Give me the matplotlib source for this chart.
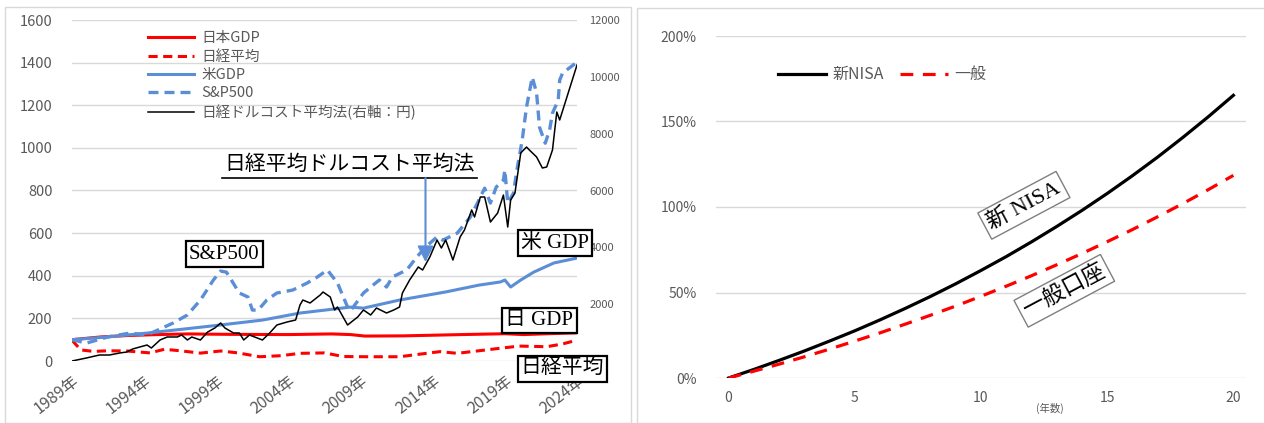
import matplotlib.pyplot as plt
from matplotlib.patches import Rectangle

plt.rcParams['font.family'] = ['Noto Sans CJK JP', 'DejaVu Sans']

# ---- left chart: 1989 = 100 ----
jp_gdp_year = [1989.0, 1991.0, 1993.0, 1995.0, 1997.0, 2000.0, 2004.0, 2007.0, 2008.3, 2009.3,
               2012.0, 2016.0, 2019.0, 2020.3, 2022.0, 2024.0]
jp_gdp = [100, 113, 120, 124, 127, 125, 124, 127, 124, 117, 118, 124, 128, 124, 128, 132]

nikkei_year = [1989.0, 1989.6, 1990.5, 1991.5, 1992.8, 1994.4, 1995.4, 1996.5, 1997.9, 1999.3,
               2000.5, 2002.0, 2003.5, 2004.8, 2006.5, 2007.8, 2009.5, 2011.7, 2014.5, 2015.7,
               2018.7, 2020.0, 2021.9, 2023.0, 2024.0]
nikkei = [98, 52, 45, 48, 47, 38, 55, 48, 37, 47, 38, 20, 25, 36, 38, 21, 20, 20, 44, 36,
          60, 70, 67, 80, 98]

us_gdp_year = [1989.0, 1991.5, 1994.2, 1996.5, 1999.3, 2002.2, 2004.8, 2008.3, 2009.2, 2011.7,
               2014.9, 2017.2, 2018.7, 2019.0, 2019.4, 2020.1, 2021.0, 2022.4, 2024.0]
us_gdp = [100, 113, 131, 148, 169, 192, 225, 253, 248, 286, 324, 356, 371, 380, 347, 380,
          417, 460, 483]

sp500_year = [1989.0, 1990.0, 1991.5, 1993.0, 1994.2, 1996.0, 1997.0, 1997.9, 1998.8, 1999.3,
              1999.7, 2000.6, 2001.2, 2001.5, 2001.9, 2002.5, 2003.2, 2004.3, 2005.3, 2006.0,
              2006.7, 2007.4, 2008.1, 2008.3, 2009.2, 2010.3, 2010.8, 2011.2, 2012.2, 2012.9,
              2013.5, 2014.3, 2014.7, 2015.7, 2016.6, 2017.1, 2017.6, 2018.0, 2018.4, 2018.9,
              2019.0, 2019.2, 2019.6, 2019.8, 2020.2, 2020.5, 2020.9, 2021.2, 2021.4, 2021.8,
              2022.1, 2022.3, 2022.7, 2022.8, 2023.0, 2024.0]
sp500 = [100, 84, 113, 131, 122, 178, 216, 286, 380, 422, 417, 319, 300, 239, 239, 286, 319,
         333, 366, 394, 427, 366, 253, 235, 319, 380, 347, 394, 427, 488, 535, 582, 567, 600,
         675, 741, 811, 741, 816, 849, 896, 741, 788, 882, 1036, 1191, 1332, 1257, 1097, 1022,
         1083, 1163, 1224, 1318, 1351, 1402]

# dollar cost averaging, yen (right axis)
dca_year = [1989.0, 1990.0, 1990.9, 1991.6, 1992.3, 1992.8, 1993.2, 1993.7, 1994.2, 1994.5,
            1995.1, 1995.6, 1996.3, 1996.6, 1997.0, 1997.3, 1997.9, 1998.4, 1998.9, 1999.3,
            1999.6, 2000.2, 2000.6, 2000.9, 2001.3, 2002.2, 2002.7, 2003.2, 2003.9, 2004.5,
            2004.8, 2005.0, 2005.5, 2006.2, 2006.4, 2006.9, 2007.2, 2007.4, 2008.1, 2008.8,
            2009.2, 2009.7, 2010.1, 2010.8, 2011.3, 2011.7, 2011.9, 2012.4, 2013.0, 2013.3,
            2013.8, 2014.3, 2014.6, 2014.9, 2015.4, 2015.9, 2016.2, 2016.7, 2016.9, 2017.3,
            2017.6, 2018.0, 2018.5, 2018.9, 2019.2, 2019.4, 2019.7, 2020.1, 2020.5, 2020.7,
            2021.2, 2021.6, 2021.9, 2022.3, 2022.6, 2022.8, 2024.0]
dca = [0, 106, 211, 211, 281, 317, 422, 493, 563, 457, 739, 845, 845, 915, 739, 845, 739,
       1020, 1161, 1337, 1161, 985, 985, 739, 915, 739, 985, 1267, 1372, 1443, 1970, 2146,
       2041, 2322, 2428, 2252, 1795, 1900, 1267, 1548, 1795, 1619, 1865, 1689, 1795, 1900,
       2393, 2850, 3308, 3202, 3660, 4258, 3977, 4258, 3554, 4364, 4610, 5314, 5067, 5771,
       5771, 4891, 5208, 5841, 4715, 5665, 5912, 7319, 7530, 7425, 7179, 6792, 6827, 7425,
       8762, 8481, 10416]

year_ticks = [1989, 1994, 1999, 2004, 2009, 2014, 2019, 2024]

# ---- right chart ----
years_held = list(range(21))
new_nisa = [0, 0.050, 0.103, 0.158, 0.216, 0.276, 0.340, 0.407, 0.477, 0.551, 0.629,
            0.710, 0.796, 0.886, 0.980, 1.079, 1.183, 1.292, 1.407, 1.527, 1.653]
general = [0, 0.040, 0.081, 0.124, 0.169, 0.216, 0.264, 0.315, 0.367, 0.421, 0.478,
           0.537, 0.598, 0.662, 0.728, 0.797, 0.868, 0.943, 1.020, 1.101, 1.185]

RED = '#FF0000'
BLUE = '#5B8ED6'
GRAY = '#595959'
GRID = '#D9D9D9'
SERIF = ['Liberation Serif', 'Noto Sans CJK JP']

W, H = 1264, 423
fig = plt.figure(figsize=(W / 100, H / 100), dpi=100)

# chart area frames
fig.add_artist(Rectangle((5 / W, 0), 626 / W, 1 - 7 / H, transform=fig.transFigure,
                         fill=False, ec=GRID, lw=1))
fig.add_artist(Rectangle((637 / W, 0), 640 / W, 1 - 8 / H, transform=fig.transFigure,
                         fill=False, ec=GRID, lw=1))

ax = fig.add_axes([72 / W, 1 - 361 / H, 505 / W, 341 / H])
ax2 = ax.twinx()

l1, = ax.plot(jp_gdp_year, jp_gdp, color=RED, lw=2.2, label='日本GDP')
l2, = ax.plot(nikkei_year, nikkei, color=RED, lw=2.2, dashes=(3, 1.8), label='日経平均')
l3, = ax.plot(us_gdp_year, us_gdp, color=BLUE, lw=2.2, label='米GDP')
l4, = ax.plot(sp500_year, sp500, color=BLUE, lw=2.4, dashes=(3, 1.8), label='S&P500')
l5, = ax2.plot(dca_year, dca, color='black', lw=1.1, label='日経ドルコスト平均法(右軸：円)')

ax.set_xlim(1989, 2024)
ax.set_ylim(0, 1600)
ax2.set_ylim(0, 12000)
ax.set_yticks(range(0, 1601, 200))
ax2.set_yticks(range(2000, 12001, 2000))
ax.set_xticks(year_ticks)
ax.set_xticklabels([f'{y}年' for y in year_ticks], rotation=38, ha='right',
                   rotation_mode='anchor')
ax.grid(axis='y', color=GRID, lw=1)
ax.set_axisbelow(True)
for a in (ax, ax2):
    for s in a.spines.values():
        s.set_visible(False)
ax.tick_params(axis='y', length=0, pad=14, labelsize=10.5, labelcolor=GRAY)
ax.tick_params(axis='x', length=0, pad=8, labelsize=11.5, labelcolor=GRAY)
ax2.tick_params(axis='y', length=0, pad=9, labelsize=8, labelcolor=GRAY)

leg = ax2.legend(handles=[l1, l2, l3, l4, l5], loc='upper left',
                 bbox_to_anchor=(0.15, 0.967), frameon=False, fontsize=10.5,
                 handlelength=3.2, handletextpad=0.5, labelspacing=0.3,
                 borderpad=0, borderaxespad=0)
for t in leg.get_texts():
    t.set_color(GRAY)

# annotations
ax2.text(2008.25, 872, '日経平均ドルコスト平均法', transform=ax.transData, ha='center',
         va='bottom', fontsize=15, family=SERIF)
ax.plot([1999.4, 2017.07], [858, 858], color='black', lw=1.2, clip_on=False)
ax.annotate('', xy=(2013.5, 464), xytext=(2013.5, 858),
            arrowprops=dict(arrowstyle='-|>', color=BLUE, lw=1.5, mutation_scale=24,
                            shrinkA=0, shrinkB=0))
box = dict(boxstyle='square,pad=0.15', fc='white', ec='black', lw=1.6)
for x, y, s in [(1999.55, 502, 'S&P500'), (2022.5, 553, '米 GDP'),
                (2021.4, 190, '日 GDP'), (2023.0, -36, '日経平均')]:
    ax2.text(x, y, s, transform=ax.transData, ha='center', va='center', fontsize=15,
             family=SERIF, bbox=box, clip_on=False, zorder=5)

# ---- right chart ----
ax3 = fig.add_axes([716 / W, 1 - 378 / H, 530 / W, 342 / H])
ax3.plot(years_held, new_nisa, color='black', lw=2.3, label='新NISA')
ax3.plot(years_held, general, color=RED, lw=2.3, dashes=(4, 3), label='一般')
ax3.set_xlim(-0.5, 20.5)
ax3.set_ylim(0, 2.0)
ax3.set_xticks([0, 5, 10, 15, 20])
ax3.set_yticks([0, 0.5, 1.0, 1.5, 2.0])
ax3.set_yticklabels(['0%', '50%', '100%', '150%', '200%'])
ax3.grid(axis='y', color=GRID, lw=1)
ax3.set_axisbelow(True)
for s in ax3.spines.values():
    s.set_visible(False)
ax3.tick_params(length=0, labelsize=10, labelcolor=GRAY)
ax3.tick_params(axis='y', pad=14)
ax3.tick_params(axis='x', pad=9)
leg3 = ax3.legend(loc='upper left', bbox_to_anchor=(0.117, 0.912), ncol=2, frameon=False,
                  fontsize=11.5, handlelength=3.0, handletextpad=0.4, columnspacing=1.0,
                  borderpad=0, borderaxespad=0)
for t in leg3.get_texts():
    t.set_color(GRAY)
fig.text(1050 / W, 1 - 408 / H, '(年数)', ha='center', va='center', fontsize=7.5,
         color=GRAY)

box3 = dict(boxstyle='square,pad=0.2', fc='white', ec='#7F7F7F', lw=1)
ax3.text(11.7, 1.01, '新 NISA', rotation=28, ha='center', va='center', fontsize=16,
         family=SERIF, bbox=box3, rotation_mode='anchor')
ax3.text(13.3, 0.51, '一般口座', rotation=28, ha='center', va='center', fontsize=16,
         family=SERIF, bbox=box3, rotation_mode='anchor')

fig.savefig('out.png', dpi=100)
